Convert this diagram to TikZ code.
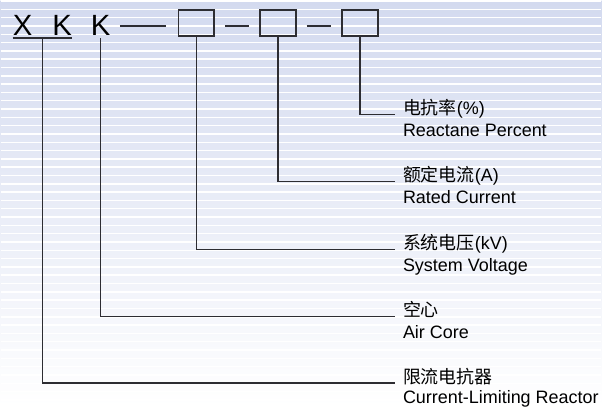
\documentclass[tikz,border=0pt]{standalone}
\usepackage{fontspec}
\setmainfont{Liberation Sans}
\newfontfamily\cjk{Noto Sans CJK SC}
\definecolor{bgtop}{RGB}{211,218,239}
\definecolor{bgmid}{RGB}{227,231,245}
\definecolor{ink}{RGB}{45,45,50}
\begin{document}
\begin{tikzpicture}[x=0.75pt,y=-0.75pt,
  % code letters and the empty slots of the type designation
  big/.style={inner sep=0pt, anchor=base west, font=\fontsize{22}{22}\selectfont},
  slot/.style={draw=ink, line width=1.1pt, minimum width=27pt, minimum height=19.5pt,
               inner sep=0pt},
  % strokes: dash between parts, leader down to the meaning of a part
  bar/.style={draw=ink, line width=1.1pt},
  lead/.style={draw=ink, line width=1.1pt, shorten >=6pt},
  % meaning labels: chinese line, then english line below it
  cn/.style={inner sep=0pt, anchor=base west, font=\fontsize{13.5}{13.5}\selectfont},
  en/.style={inner sep=0pt, anchor=base west, font=\fontsize{13.5}{13.5}\selectfont},
  ]
  % ---- striped background ---------------------------------------------------------
  \shade[top color=bgtop, middle color=bgmid, bottom color=white] (0,0) rectangle (602,408);
  \foreach \y in {1,9.33,...,408} \draw[white, line width=1.1pt] (0,\y) -- (602,\y);
  \useasboundingbox (0,0) rectangle (602,408);
  % ---- type designation ------------------------------------------------------------
  \node[big] (xk) at (12,36) {X\hspace{15pt}K};
  \node[big] (k2) at (90,36) {K};
  \node[slot] (b1) at (196,23) {};
  \node[slot] (b2) at (278,23) {};
  \node[slot] (b3) at (360,23) {};
  \draw[bar] ([yshift=-1.5pt]xk.south west) -- ([yshift=-1.5pt]xk.south east);
  \draw[bar, shorten <=7pt, shorten >=9pt] (k2.east) -- (k2.east -| b1.west);
  \draw[bar, shorten <=7.5pt, shorten >=7.5pt] (b1.east |- k2.east) -- (b2.west |- k2.east);
  \draw[bar, shorten <=7.5pt, shorten >=7.5pt] (b2.east |- k2.east) -- (b3.west |- k2.east);
  % ---- meanings (right column) -----------------------------------------------------
  \node[cn] (c1) at (403,115) {{\cjk 电抗率}(\%)};
  \node[en] (e1) at (403,137) {Reactane Percent};
  \node[cn] (c2) at (403,182) {{\cjk 额定电流}(A)};
  \node[en] (e2) at (403,204) {Rated Current};
  \node[cn] (c3) at (403,250) {{\cjk 系统电压}(kV)};
  \node[en] (e3) at (403,272) {System Voltage};
  \node[cn] (c4) at (403,317) {{\cjk 空心}};
  \node[en] (e4) at (403,339) {Air Core};
  \node[cn] (c5) at (403,384) {{\cjk 限流电抗器}};
  \node[en] (e5) at (403,404.5) {Current-Limiting Reactor};
  % ---- leaders ---------------------------------------------------------------------
  \draw[lead] (b3.south) |- (c1.base west);
  \draw[lead] (b2.south) |- (c2.base west);
  \draw[lead] (b1.south) |- (c3.base west);
  \draw[lead] ([yshift=-1.5pt]k2.south) |- (c4.base west);
  \draw[lead] ([yshift=-1.5pt]xk.south) |- (c5.base west);
\end{tikzpicture}
\end{document}
